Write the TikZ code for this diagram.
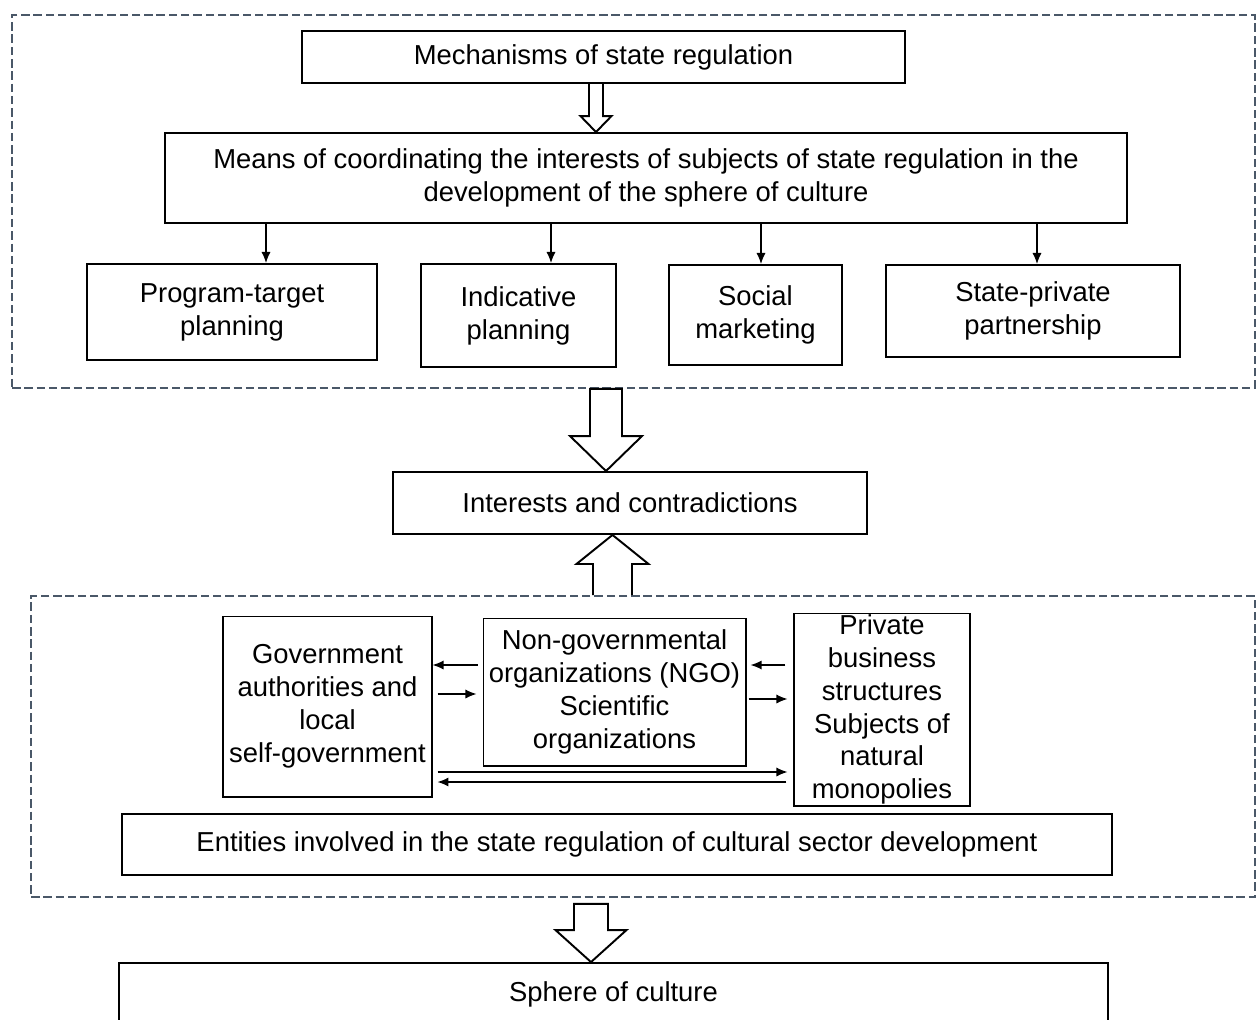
\documentclass[tikz,border=0pt]{standalone}
\usepackage{fontspec}
\setmainfont{Liberation Sans}
\usepackage{tikz}
\usetikzlibrary{calc}
\usetikzlibrary{arrows.meta}
\definecolor{framegray}{RGB}{74,88,104}

\newcommand{\hollowarrow}[6]{%
  \draw[hollow] let \p1=(#1), \p2=(#2), \p3=($(#2)!#5!(#1)$) in
    (\x1-#3,\y1) -- (\x1-#3,\y3) -- (\x1-#4,\y3) -- (\x1,\y2) -- (\x1+#4,\y3) -- (\x1+#3,\y3) -- (\x1+#3,\y1) #6;
}

\begin{document}
\begin{tikzpicture}[x=0.02cm, y=-0.02cm,
    every node/.style={font=\fontsize{15.6}{18.7}\selectfont, align=center, inner sep=0pt},
    box/.style={draw, line width=1.1pt},
    thinbox/.style={draw, line width=0.6pt},
    frame/.style={draw=framegray, line width=1.1pt, dash pattern=on 4.8pt off 2.2pt},
    hollow/.style={line width=1.1pt, line join=miter},
    link/.style={->, line width=0.75pt},
    >={Latex[length=6.3pt,width=5.2pt]}]
    \useasboundingbox (0,0) rectangle (1259,1019);
    \clip (0,0) rectangle (1259,1019);

    \node[frame, minimum width=24.86cm, minimum height=7.46cm] (means frame) at (633.5,201.5) {};
    \node[frame, minimum width=24.48cm, minimum height=6.02cm] (entities frame) at (643,746.5) {};

    \node[box, minimum width=12.06cm, minimum height=1.04cm] (mechanisms) at (603.5,57) {Mechanisms of state regulation};
    \node[box, minimum width=19.24cm, minimum height=1.8cm] (means) at (646,178) {Means of coordinating the interests of subjects of state regulation in the\\development of the sphere of culture};
    \node[box, minimum width=5.8cm, minimum height=1.92cm] (program) at (232,312) {Program-target\\planning};
    \node[box, minimum width=3.9cm, minimum height=2.06cm] (indicative) at (518.5,315.5) {Indicative\\planning};
    \node[box, minimum width=3.46cm, minimum height=2cm] (social) at (755.5,315) {Social\\marketing};
    \node[box, minimum width=5.88cm, minimum height=1.84cm] (partnership) at (1033,311) {State-private\\partnership};

    \node[box, minimum width=9.48cm, minimum height=1.24cm] (interests) at (630,503) {Interests and contradictions};

    \node[thinbox, minimum width=4.18cm, minimum height=3.62cm] (government) at (327.5,706.5) {Government\\authorities and\\local\\self-government};
    \node[thinbox, minimum width=5.26cm, minimum height=2.96cm] (ngo) at (614.5,692) {Non-governmental\\organizations (NGO)\\Scientific\\organizations};
    \node[thinbox, minimum width=3.52cm, minimum height=3.86cm] (business) at (882,709.5) {Private\\business\\structures\\Subjects of\\natural\\monopolies};
    \node[box, minimum width=19.8cm, minimum height=1.22cm] (entities) at (617,844.5) {Entities involved in the state regulation of cultural sector development};

    \node[box, minimum width=19.78cm, minimum height=1.24cm] (sphere) at (613.5,994) {Sphere of culture};

    \coordinate (program in) at ($(program.north)+(34,0)$);
    \coordinate (indicative in) at ($(indicative.north)+(32.5,0)$);
    \coordinate (social in) at ($(social.north)+(5.5,0)$);
    \coordinate (partnership in) at ($(partnership.north)+(4,0)$);
    \draw[link] (program in |- means.south) -- (program in);
    \draw[link] (indicative in |- means.south) -- (indicative in);
    \draw[link] (social in |- means.south) -- (social in);
    \draw[link] (partnership in |- means.south) -- (partnership in);

    \draw[link] ($(ngo.west)+(-5,-27)$) coordinate (ngo out) -- (ngo out -| government.east);
    \draw[link, shorten >=3.4pt] ($(government.east)+(5,-12.5)$) coordinate (government out) -- (government out -| ngo.west);
    \draw[link, shorten >=2.3pt] ($(business.west)+(-8,-44.5)$) coordinate (business out) -- (business out -| ngo.east);
    \draw[link, shorten >=3.4pt] ($(ngo.east)+(2,7)$) coordinate (ngo right) -- (ngo right -| business.west);
    \draw[link, shorten >=3.4pt] ($(government.east)+(5,65.5)$) coordinate (government low) -- (government low -| business.west);
    \draw[link, shorten >=2.8pt] ($(business.west)+(-7,72.5)$) coordinate (business low) -- (business low -| government.east);

    \coordinate (mechanisms out) at ($(mechanisms.south)+(-7.5,0)$);
    \coordinate (means top) at (mechanisms out |- means.north);
    \hollowarrow{mechanisms out}{means top}{0.14cm}{0.31cm}{0.32cm}{}

    \coordinate (frame out) at ($(means frame.south)+(-27.5,0)$);
    \coordinate (interests top) at (frame out |- interests.north);
    \hollowarrow{frame out}{interests top}{0.32cm}{0.72cm}{0.7cm}{-- cycle}

    \coordinate (entities up) at ($(entities frame.north)+(-30.5,0)$);
    \coordinate (interests bottom) at (entities up |- interests.south);
    \hollowarrow{entities up}{interests bottom}{0.39cm}{0.72cm}{0.58cm}{}

    \coordinate (entities down) at ($(entities frame.south)+(-52,6)$);
    \coordinate (sphere top) at (entities down |- sphere.north);
    \hollowarrow{entities down}{sphere top}{0.34cm}{0.71cm}{0.64cm}{-- cycle}
\end{tikzpicture}
\end{document}
